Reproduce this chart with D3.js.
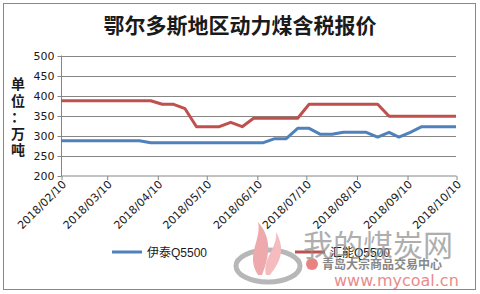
<!DOCTYPE html>
<html>
<head>
<meta charset="UTF-8">
<script src="https://d3js.org/d3.v7.min.js"></script>
<style>
  body { margin: 0; background: #fff; }
  text { font-family: "DejaVu Sans", "Noto Sans CJK SC", sans-serif; fill: #1a1a1a; }
</style>
</head>
<body>
<svg id="chart" width="480" height="294"></svg>
<script>
// weekly-ish report dates
var dates = ["2018-02-10","2018-02-17","2018-02-24","2018-03-03","2018-03-10","2018-03-17",
  "2018-03-23","2018-03-30","2018-04-06","2018-04-13","2018-04-20","2018-04-27",
  "2018-05-04","2018-05-11","2018-05-18","2018-05-25","2018-06-01","2018-06-08",
  "2018-06-14","2018-06-21","2018-06-28","2018-07-05","2018-07-12","2018-07-19",
  "2018-07-26","2018-08-02","2018-08-09","2018-08-16","2018-08-23","2018-08-30",
  "2018-09-05","2018-09-12","2018-09-19","2018-09-26","2018-10-03","2018-10-10"];

var yitai = [287,287,287,287,287,287,287,287,282,282,282,282,
  282,282,282,282,282,282,282,292,292,318,318,303,
  303,308,308,308,296,308,296,308,322,322,322,322];

var huineng = [387,387,387,387,387,387,387,387,387,378,378,367,
  322,322,322,333,322,343,343,343,343,343,378,378,
  378,378,378,378,378,348,348,348,348,348,348,348];

var seriesNames = ["伊泰Q5500", "汇能Q5500"];
var seriesColors = ["#4F81BD", "#C0504D"];
var yTicks = [200, 250, 300, 350, 400, 450, 500];
var xTicks = ["2018-02-10","2018-03-10","2018-04-10","2018-05-10","2018-06-10",
  "2018-07-10","2018-08-10","2018-09-10","2018-10-10"];

var parse = d3.timeParse("%Y-%m-%d");
var fmt = d3.timeFormat("%Y/%m/%d");

var svg = d3.select("#chart");

// outer frame
svg.append("rect").attr("x", 3.5).attr("y", 3.5).attr("width", 472).attr("height", 286)
  .attr("fill", "#fff").attr("stroke", "#888").attr("stroke-width", 1);

svg.append("text").attr("x", 240).attr("y", 33).attr("text-anchor", "middle")
  .style("font-family", "'Noto Sans CJK SC', sans-serif")
  .style("font-size", "21px").style("font-weight", "bold")
  .text("鄂尔多斯地区动力煤含税报价");

// vertical unit label
var unit = ["单", "位", "：", "万", "吨"];
svg.append("g").selectAll("text").data(unit).join("text")
  .attr("x", 18).attr("y", function(d, i) { return 89 + i * 16.5; })
  .attr("text-anchor", "middle")
  .style("font-family", "'Noto Sans CJK SC', sans-serif")
  .style("font-size", "14px").style("font-weight", "bold")
  .text(function(d) { return d; });

var x = d3.scaleTime().domain([parse(dates[0]), parse(dates[dates.length - 1])]).range([61, 456]);
var y = d3.scaleLinear().domain([200, 500]).range([175.5, 55.5]);

// gridlines
svg.append("g").selectAll("line").data(yTicks.slice(1)).join("line")
  .attr("x1", 61).attr("x2", 456)
  .attr("y1", function(d) { return Math.round(y(d)) + 0.5; })
  .attr("y2", function(d) { return Math.round(y(d)) + 0.5; })
  .attr("stroke", "#868686");

var yAxis = d3.axisLeft(y).tickValues(yTicks).tickSize(4).tickPadding(3);
var gy = svg.append("g").attr("transform", "translate(61.5,0.5)").call(yAxis);
gy.selectAll("path, line").attr("stroke", "#868686");
gy.select(".domain").attr("d", "M0," + (y(500) - 0.5) + "V" + y(200));
gy.selectAll("text").style("font-family", "'DejaVu Sans', sans-serif").style("font-size", "11px").attr("fill", "#1a1a1a");

var xAxis = d3.axisBottom(x).tickValues(xTicks.map(parse)).tickSize(4).tickFormat(fmt);
var gx = svg.append("g").attr("transform", "translate(0.5," + (y(200) + 0.5) + ")").call(xAxis);
gx.selectAll("path, line").attr("stroke", "#868686");
gx.select(".domain").attr("d", "M61,0H456");
gx.selectAll("text")
  .style("font-family", "'DejaVu Sans', sans-serif").style("font-size", "11px").attr("fill", "#1a1a1a")
  .attr("text-anchor", "end")
  .attr("dy", null).attr("y", 0)
  .attr("transform", "translate(5,9) rotate(-45)");

// lines
var line = d3.line()
  .x(function(d, i) { return x(parse(dates[i])); })
  .y(function(d) { return y(d); });

[yitai, huineng].forEach(function(vals, k) {
  svg.append("path").datum(vals)
    .attr("fill", "none").attr("stroke", seriesColors[k])
    .attr("stroke-width", 3).attr("stroke-linejoin", "round")
    .attr("d", line);
});

// legend
var legendX = [112, 295];
seriesNames.forEach(function(name, k) {
  svg.append("line").attr("x1", legendX[k]).attr("x2", legendX[k] + 30)
    .attr("y1", 252).attr("y2", 252)
    .attr("stroke", seriesColors[k]).attr("stroke-width", 3);
  svg.append("text").attr("x", legendX[k] + 35).attr("y", 256.5)
    .style("font-family", "'Liberation Sans', 'Noto Sans CJK SC', sans-serif")
    .style("font-size", "12px")
    .text(name);
});

// watermark
var wm = svg.append("g").attr("opacity", 0.7);
wm.append("ellipse").attr("cx", 268).attr("cy", 266).attr("rx", 32).attr("ry", 16)
  .attr("fill", "none").attr("stroke", "#999").attr("stroke-width", 5);
wm.append("path").attr("d", "M258,275 C245,255 262,240 258,222 C272,238 270,255 262,275 Z")
  .attr("fill", "#e8868a");
wm.append("path").attr("d", "M266,275 C262,258 278,248 276,232 C286,250 280,262 270,275 Z")
  .attr("fill", "#f0a0a4");
wm.append("circle").attr("cx", 312).attr("cy", 264).attr("r", 6).attr("fill", "#e05050");
wm.append("text").attr("x", 303).attr("y", 256)
  .style("font-family", "'Noto Sans CJK SC', sans-serif").style("font-size", "30px")
  .style("fill", "#8c8c8c")
  .text("我的煤炭网");
wm.append("text").attr("x", 322).attr("y", 269)
  .style("font-family", "'Noto Sans CJK SC', sans-serif").style("font-size", "12px")
  .style("fill", "#555").style("font-weight", "bold")
  .text("青岛大宗商品交易中心");
wm.append("text").attr("x", 334).attr("y", 286)
  .style("font-family", "'DejaVu Sans', sans-serif").style("font-size", "16px")
  .style("fill", "#e05a5a")
  .text("www.mycoal.cn");
</script>
</body>
</html>
